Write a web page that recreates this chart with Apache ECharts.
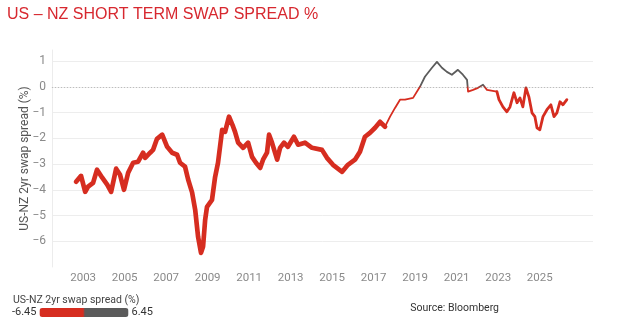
<!DOCTYPE html>
<html>
<head>
<meta charset="utf-8">
<script src="https://cdn.jsdelivr.net/npm/echarts@6/dist/echarts.min.js"></script>
<style>
  html, body { margin: 0; padding: 0; background: #fff; }
  #chart { width: 620px; height: 336px; }
</style>
</head>
<body>
<div id="chart"></div>
<script>
// US-NZ 2yr swap spread (%), sampled as decimal-year points
const dates = [
  2002.66, 2002.90, 2003.10, 2003.24, 2003.48, 2003.67, 2003.92, 2004.16, 2004.35, 2004.59,
  2004.78, 2004.97, 2005.17, 2005.41, 2005.65, 2005.89, 2005.99, 2006.23, 2006.37, 2006.56,
  2006.81, 2007.05, 2007.29, 2007.53, 2007.67, 2007.91, 2008.06, 2008.25, 2008.40, 2008.54,
  2008.68, 2008.78, 2008.88, 2008.97, 2009.21, 2009.36, 2009.50, 2009.70, 2009.84, 2010.03,
  2010.23, 2010.32, 2010.47, 2010.71, 2010.95, 2011.14, 2011.33, 2011.53, 2011.67, 2011.86,
  2011.96, 2012.10, 2012.35, 2012.49, 2012.68, 2012.87, 2013.16, 2013.36, 2013.69, 2014.03,
  2014.51, 2014.75, 2015.04, 2015.48, 2015.76, 2016.10, 2016.34, 2016.58, 2016.82, 2017.07,
  2017.31, 2017.55, 2017.79, 2018.03, 2018.27, 2018.51, 2018.90, 2019.23, 2019.47, 2019.81,
  2020.05, 2020.29, 2020.53, 2020.77, 2021.06, 2021.30, 2021.50, 2021.55, 2021.79, 2022.03,
  2022.27, 2022.46, 2022.94, 2023.04, 2023.23, 2023.42, 2023.57, 2023.76, 2023.91, 2024.05,
  2024.19, 2024.34, 2024.48, 2024.63, 2024.77, 2024.87, 2025.01, 2025.16, 2025.35, 2025.54,
  2025.69, 2025.83, 2025.98, 2026.12, 2026.31
];
const spread = [
  -3.69, -3.46, -4.08, -3.88, -3.73, -3.22, -3.53, -3.80, -4.08, -3.18,
  -3.42, -4.00, -3.34, -2.95, -2.91, -2.56, -2.76, -2.56, -2.45, -2.02,
  -1.86, -2.33, -2.56, -2.64, -2.95, -3.10, -3.60, -4.10, -4.78, -5.83,
  -6.45, -6.20, -5.17, -4.66, -4.39, -3.50, -2.95, -1.67, -1.75, -1.16,
  -1.55, -1.75, -2.17, -2.37, -2.17, -2.72, -2.95, -3.15, -2.83, -2.56,
  -1.86, -2.17, -2.83, -2.37, -2.17, -2.33, -1.94, -2.25, -2.17, -2.37,
  -2.45, -2.76, -3.03, -3.30, -3.03, -2.83, -2.52, -1.94, -1.79, -1.59,
  -1.36, -1.55, -1.16, -0.82, -0.50, -0.50, -0.43, 0.00, 0.39, 0.74,
  0.97, 0.74, 0.58, 0.47, 0.66, 0.47, 0.27, -0.19, -0.12, -0.04,
  0.08, -0.12, -0.19, -0.50, -0.78, -0.97, -0.78, -0.23, -0.62, -0.43,
  -0.78, -0.04, -0.39, -1.01, -1.16, -1.59, -1.67, -1.16, -0.89, -0.70,
  -1.16, -1.01, -0.58, -0.70, -0.50
];
const yearLabels = [2003, 2005, 2007, 2009, 2011, 2013, 2015, 2017, 2019, 2021, 2023, 2025];
const legendRange = [-6.45, 6.45];

const RED = '#d62d20';
const GREY = '#5b5b5b';
const FONT = 'Roboto, "Liberation Sans", sans-serif';

const points = dates.map((d, i) => [d, spread[i]]);
const between = (a, b) => points.filter(p => p[0] >= a && p[0] <= b);

// red below zero, grey above: many equal stops keep the switch at 0 sharp
const scaleColors = [];
for (let i = 0; i < 60; i++) scaleColors.push(RED);
for (let i = 0; i < 60; i++) scaleColors.push(GREY);

const lineSeries = (data, width) => ({
  type: 'line',
  data: data,
  showSymbol: false,
  symbol: 'none',
  smooth: false,
  lineStyle: { width: width, join: 'round', cap: 'round' },
  z: 3
});

const chart = echarts.init(document.getElementById('chart'), null, { renderer: 'canvas' });
chart.setOption({
  animation: false,
  backgroundColor: '#fff',
  title: [
    {
      text: 'US – NZ SHORT TERM SWAP SPREAD %',
      left: 2, top: 2,
      textStyle: { color: '#d7282f', fontSize: 16, fontWeight: 'normal', fontFamily: '"Liberation Sans", Arial, sans-serif' }
    },
    {
      text: 'US-NZ 2yr swap spread (%)',
      left: 8, top: 290,
      textStyle: { color: '#444', fontSize: 10.5, fontWeight: 'normal', fontFamily: FONT }
    },
    {
      text: 'Source: Bloomberg',
      right: 116, top: 298,
      textStyle: { color: '#333', fontSize: 10.5, fontWeight: 'normal', fontFamily: FONT }
    }
  ],
  grid: { left: 52, right: 27, top: 50, bottom: 69 },
  xAxis: {
    type: 'value',
    min: 2001.5,
    max: 2027.57,
    axisLine: { show: true, lineStyle: { color: '#ececec' } },
    axisTick: { show: false },
    splitLine: { show: false },
    axisLabel: {
      customValues: yearLabels,
      color: '#8a8a8a',
      fontSize: 11.5,
      fontFamily: FONT,
      margin: 5,
      formatter: v => String(Math.round(v))
    }
  },
  yAxis: {
    type: 'value',
    min: -7,
    max: 1.43,
    interval: 1,
    name: 'US-NZ 2yr swap spread (%)',
    nameLocation: 'middle',
    nameGap: 21,
    nameMoveOverlap: false,
    nameRotate: 90,
    nameTextStyle: { color: '#555', fontSize: 12, fontFamily: FONT },
    axisLine: { show: true, lineStyle: { color: '#ececec' } },
    axisTick: { show: false },
    splitLine: { show: true, showMaxLine: false, showMinLine: false, lineStyle: { color: '#ededed', width: 1 } },
    axisLabel: {
      color: '#8a8a8a',
      fontSize: 12,
      fontFamily: FONT,
      margin: 6,
      showMinLabel: false,
      showMaxLabel: false,
      formatter: v => String(v).replace('-', '−')
    }
  },
  visualMap: {
    type: 'continuous',
    dimension: 1,
    seriesIndex: [0, 1, 2],
    min: legendRange[0],
    max: legendRange[1],
    orient: 'horizontal',
    left: -3,
    top: 292,
    itemWidth: 9,
    itemHeight: 89,
    textGap: 3,
    calculable: false,
    hoverLink: false,
    text: [String(legendRange[1]), String(legendRange[0])],
    textStyle: { color: '#333', fontSize: 11, fontFamily: FONT },
    inRange: { color: scaleColors }
  },
  series: [
    Object.assign(lineSeries(between(2002, 2017.55), 4.7), {
      markLine: {
        silent: true,
        symbol: 'none',
        z: 1,
        label: { show: false },
        lineStyle: { color: '#bdbdbd', type: [1, 2], width: 1 },
        data: [{ yAxis: 0 }]
      }
    }),
    lineSeries(between(2017.55, 2022.94), 1.8),
    lineSeries(between(2022.94, 2027), 2.8)
  ]
});
</script>
</body>
</html>
